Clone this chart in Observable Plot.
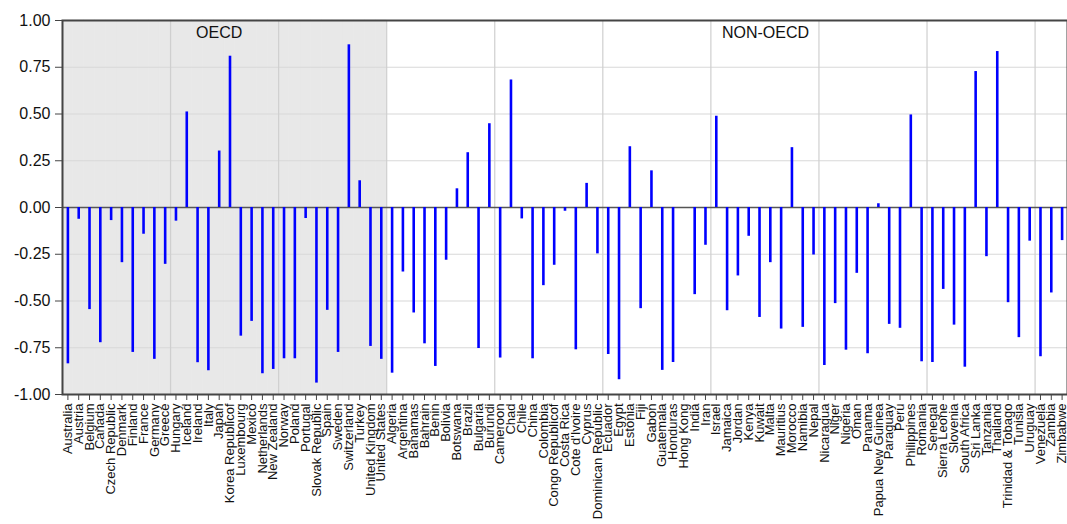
<!DOCTYPE html>
<html>
<head>
<meta charset="utf-8">
<script src="https://cdn.jsdelivr.net/npm/d3@7"></script>
<script src="https://cdn.jsdelivr.net/npm/@observablehq/plot@0.6"></script>
<style>
  html, body { margin: 0; padding: 0; background: #fff; }
  #chart svg { display: block; }
</style>
</head>
<body>
<div id="chart"></div>
<script>
const oecdCountries = ["Australia","Austria","Belgium","Canada","Czech Republic","Denmark","Finland","France","Germany","Greece",
  "Hungary","Iceland","Ireland","Italy","Japan","Korea Republicof","Luxembourg","Mexico","Netherlands","New Zealand",
  "Norway","Poland","Portugal","Slovak Republic","Spain","Sweden","Switzerland","Turkey","United Kingdom","United States"];
const oecdValues = [-0.836,-0.063,-0.546,-0.723,-0.070,-0.295,-0.775,-0.143,-0.812,-0.304,
  -0.073,0.511,-0.830,-0.873,0.302,0.809,-0.688,-0.609,-0.889,-0.866,
  -0.809,-0.809,-0.059,-0.939,-0.550,-0.775,0.870,0.143,-0.743,-0.812];

const nonOecdCountries = ["Algeria","Argentina","Bahamas","Bahrain","Benin","Bolivia","Botswana","Brazil","Bulgaria","Burundi",
  "Cameroon","Chad","Chile","China","Colombia","Congo Republicof","Costa Rica","Cote d'Ivoire","Cyprus","Dominican Republic",
  "Ecuador","Egypt","Estonia","Fiji","Gabon","Guatemala","Honduras","Hong Kong","India","Iran",
  "Israel","Jamaica","Jordan","Kenya","Kuwait","Malta","Mauritius","Morocco","Namibia","Nepal",
  "Nicaragua","Niger","Nigeria","Oman","Panama","Papua New Guinea","Paraguay","Peru","Philippines","Romania",
  "Senegal","Sierra Leone","Slovenia","South Africa","Sri Lanka","Tanzania","Thailand","Trinidad & Tobago","Tunisia","Uruguay",
  "Venezuela","Zambia","Zimbabwe"];
const nonOecdValues = [-0.886,-0.345,-0.564,-0.729,-0.850,-0.282,0.100,0.293,-0.754,0.448,
  -0.805,0.682,-0.061,-0.809,-0.418,-0.309,-0.020,-0.761,0.129,-0.248,
  -0.786,-0.921,0.325,-0.541,0.196,-0.871,-0.829,0,-0.466,-0.202,
  0.488,-0.552,-0.366,-0.154,-0.588,-0.295,-0.650,0.320,-0.641,-0.254,
  -0.845,-0.514,-0.763,-0.352,-0.782,0.020,-0.625,-0.646,0.495,-0.825,
  -0.829,-0.438,-0.629,-0.854,0.727,-0.263,0.834,-0.509,-0.696,-0.180,
  -0.798,-0.457,-0.177];

const yTicks = [-1, -0.75, -0.5, -0.25, 0, 0.25, 0.5, 0.75, 1];
const groupLabels = ["OECD", "NON-OECD"];

const countries = oecdCountries.concat(nonOecdCountries);
const data = countries.map((c, i) => ({
  country: c,
  value: i < oecdCountries.length ? oecdValues[i] : nonOecdValues[i - oecdCountries.length],
  group: i < oecdCountries.length ? "OECD" : "NON-OECD"
}));
const gridCountries = countries.filter((c, i) => i > 0 && i % 10 === 0);

const W = 1067, H = 524, mL = 62, mR = 0;
const bw = (W - mL - mR) / countries.length;

const chart = Plot.plot({
  width: W,
  height: H,
  marginLeft: mL,
  marginRight: mR,
  marginTop: 20,
  marginBottom: 130,
  style: { fontFamily: "'Liberation Sans', Arial, Helvetica, sans-serif", color: "#222", background: "#fff" },
  x: { domain: countries, padding: 0, axis: null },
  y: { domain: [-1, 1], axis: null },
  marks: [
    Plot.barY(oecdCountries, { x: d => d, y1: -1, y2: 1, fill: "#e8e8e8", stroke: "#e8e8e8", strokeWidth: 0.6, inset: 0 }),
    Plot.ruleY(yTicks, { stroke: "#d8d8d8", strokeWidth: 1.2 }),
    Plot.ruleX(gridCountries, { x: d => d, dx: -bw / 2, stroke: "#cfcfcf", strokeWidth: 1.2 }),
    Plot.ruleY([0], { stroke: "#555", strokeWidth: 1.5 }),
    Plot.ruleX(data, { x: "country", y1: 0, y2: "value", stroke: "#0000ff", strokeWidth: 2.6 }),
    Plot.text([groupLabels[0]], { x: () => "Japan", y: 1, dy: 12, text: d => d, fontSize: 16, fill: "#111", textAnchor: "middle" }),
    Plot.text([groupLabels[1]], { x: () => "Kuwait", y: 1, dy: 12, dx: 6, text: d => d, fontSize: 16, fill: "#111", textAnchor: "middle" }),
    Plot.frame({ stroke: "#444", strokeWidth: 2 }),
    Plot.axisY({ ticks: yTicks, tickFormat: d => d.toFixed(2), fontSize: 16, tickSize: 7, tickPadding: 5, stroke: "#444", fill: "#111", label: null }),
    Plot.axisX({ tickRotate: -90, fontSize: 13, tickSize: 6, tickPadding: 3, stroke: "#444", fill: "#111", label: null })
  ]
});
document.getElementById("chart").appendChild(chart);
</script>
</body>
</html>
